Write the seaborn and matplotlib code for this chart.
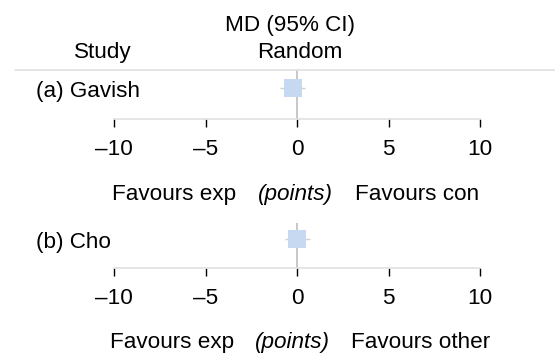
import matplotlib
matplotlib.use("Agg")
import matplotlib.pyplot as plt
import seaborn as sns
import pandas as pd
from matplotlib.lines import Line2D

# data
studies = ["(a) Gavish", "(b) Cho"]
md = [-0.25, 0.0]
ci_low = [-0.95, -0.65]
ci_high = [0.4, 0.7]
ticks = [-10, -5, 0, 5, 10]
tick_labels = ["\u201310", "\u20135", "0", "5", "10"]
favours_left = ["Favours exp", "Favours exp"]
favours_right = ["Favours con", "Favours other"]
unit = "(points)"

W, H = 555, 353
sns.set_theme(style="white")
plt.rcParams["font.family"] = ["Liberation Sans", "DejaVu Sans"]
FS = 16.2

fig = plt.figure(figsize=(W / 100, H / 100), dpi=100)


def fx(x):
    return x / W


def fy(y):
    return 1 - y / H


def ftext(x, y, s, **kw):
    kw.setdefault("fontsize", FS)
    kw.setdefault("va", "baseline")
    fig.text(fx(x), fy(y), s, color="black", **kw)


# header
ftext(290, 31, "MD (95% CI)", ha="center")
ftext(300, 58, "Random", ha="center")
ftext(103, 58, "Study", ha="center")
fig.add_artist(Line2D([fx(15), fx(555)], [fy(70), fy(70)],
                      color="#e0e0e0", lw=1.2, transform=fig.transFigure))

# panel geometry in pixels: (top, bottom) of the axes area
panels = [(70, 119), (223, 268)]
x0, x1 = 114.3, 480.3
sq_color = "#c6d9f1"

for i, (top, bot) in enumerate(panels):
    ax = fig.add_axes([fx(x0), fy(bot), fx(x1) - fx(x0), (bot - top) / H])
    df = pd.DataFrame({"md": [md[i]], "y": [0.64]})
    ax.axvline(0, color="#bdbdbd", lw=1.2, zorder=1)
    ax.hlines(0.64, ci_low[i], ci_high[i], color="#d0d0d0", lw=1.0, zorder=2)
    sns.scatterplot(data=df, x="md", y="y", marker="s", s=150, color=sq_color,
                    linewidth=0, ax=ax, zorder=3)
    ax.set_xlim(-10, 10)
    ax.set_ylim(0, 1)
    ax.set_yticks([])
    ax.set_xticks(ticks)
    ax.set_xticklabels(tick_labels)
    ax.set_xlabel("")
    ax.set_ylabel("")
    for side in ["top", "left", "right"]:
        ax.spines[side].set_visible(False)
    ax.spines["bottom"].set_color("#e0e0e0")
    ax.spines["bottom"].set_linewidth(1.2)
    ax.tick_params(axis="x", direction="out", length=6, width=1,
                   color="black", labelcolor="black", pad=8.5,
                   labelsize=FS, bottom=True)
    ax.patch.set_alpha(0)

    # study label and favours text
    ftext(36, top + 27 if i == 0 else top + 25, studies[i], ha="left")
    base = bot + 81 if i == 0 else bot + 80
    ftext(236 if i == 0 else 234, base, favours_left[i], ha="right")
    ftext(295 if i == 0 else 292, base, unit, ha="center", style="italic")
    ftext(355 if i == 0 else 351, base, favours_right[i], ha="left")

fig.savefig("out.png", dpi=100)
